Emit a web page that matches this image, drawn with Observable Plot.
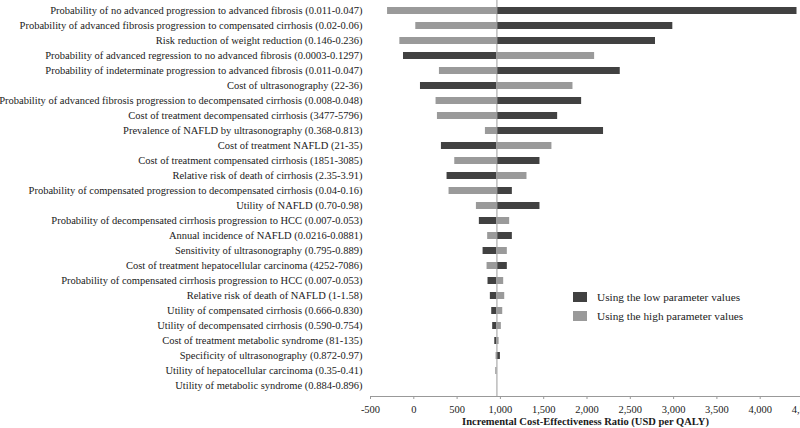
<!DOCTYPE html>
<html><head><meta charset="utf-8">
<script src="https://cdn.jsdelivr.net/npm/d3@7"></script>
<script src="https://cdn.jsdelivr.net/npm/@observablehq/plot@0.6"></script>
<style>
body{margin:0;background:#fff;overflow:hidden}
#wrap{position:relative;width:800px;height:428px}
.leg{position:absolute;left:573px;font:11.3px "Liberation Serif",serif;color:#222;display:flex;align-items:center;white-space:nowrap}
.leg span.sw{display:inline-block;width:14px;height:10px;margin-right:10px}
g[aria-label="x-axis label"] text{font-weight:bold}
</style></head><body><div id="wrap"></div>
<script>
const parameters = [
"Probability of no advanced progression to advanced fibrosis (0.011-0.047)",
"Probability of advanced fibrosis progression to compensated cirrhosis (0.02-0.06)",
"Risk reduction of weight reduction (0.146-0.236)",
"Probability of advanced regression to no advanced fibrosis (0.0003-0.1297)",
"Probability of indeterminate progression to advanced fibrosis (0.011-0.047)",
"Cost of ultrasonography (22-36)",
"Probability of advanced fibrosis progression to decompensated cirrhosis (0.008-0.048)",
"Cost of treatment decompensated cirrhosis (3477-5796)",
"Prevalence of NAFLD by ultrasonography (0.368-0.813)",
"Cost of treatment NAFLD (21-35)",
"Cost of treatment compensated cirrhosis (1851-3085)",
"Relative risk of death of cirrhosis (2.35-3.91)",
"Probability of compensated progression to decompensated cirrhosis (0.04-0.16)",
"Utility of NAFLD (0.70-0.98)",
"Probability of decompensated cirrhosis progression to HCC (0.007-0.053)",
"Annual incidence of NAFLD (0.0216-0.0881)",
"Sensitivity of ultrasonography (0.795-0.889)",
"Cost of treatment hepatocellular carcinoma (4252-7086)",
"Probability of compensated cirrhosis progression to HCC (0.007-0.053)",
"Relative risk of death of NAFLD (1-1.58)",
"Utility of compensated cirrhosis (0.666-0.830)",
"Utility of decompensated cirrhosis (0.590-0.754)",
"Cost of treatment metabolic syndrome (81-135)",
"Specificity of ultrasonography (0.872-0.97)",
"Utility of hepatocellular carcinoma (0.35-0.41)",
"Utility of metabolic syndrome (0.884-0.896)"
];
// ICER (USD per QALY) using the low parameter values
const lowValues = [4425, 2991, 2791, -119, 2384, 77, 1938, 1661, 2191, 319, 1457, 384, 1138, 1457, 757, 1138, 800, 1080, 857, 884, 900, 911, 935, 1000, null, null];
// ICER (USD per QALY) using the high parameter values
const highValues = [-303, 23, -161, 2088, 296, 1838, 257, 273, 827, 1595, 473, 1307, 407, 723, 1107, 853, 1080, 846, 1038, 1050, 1027, 1011, 985, 950, 946, null];
const baseICER = 960;
const xTicks = [-500, 0, 500, 1000, 1500, 2000, 2500, 3000, 3500, 4000, 4500];
const seriesNames = ["Using the low parameter values", "Using the high parameter values"];
const seriesColors = ["#414141", "#9a9a9a"];

const rows = [];
parameters.forEach((p, i) => {
  if (lowValues[i] != null) rows.push({parameter: p, series: seriesNames[0], base: baseICER, value: lowValues[i]});
  if (highValues[i] != null) rows.push({parameter: p, series: seriesNames[1], base: baseICER, value: highValues[i]});
});

const chart = Plot.plot({
  width: 800, height: 428,
  marginLeft: 370, marginRight: 0, marginTop: 0, marginBottom: 32,
  x: {domain: [-500, 4500], range: [370, 803]},
  y: {domain: parameters, padding: 0},
  color: {domain: seriesNames, range: seriesColors},
  style: {fontFamily: '"Liberation Serif", serif', fontSize: "10px", color: "#1a1a1a", background: "#fff"},
  marks: [
    Plot.barX(rows, {y: "parameter", x1: "base", x2: "value", fill: "series", insetTop: 4, insetBottom: 4}),
    Plot.ruleX([baseICER], {stroke: "#9a9a9a"}),
    Plot.axisY({tickSize: 0, tickPadding: 8, label: null, fontSize: 10.5}),
    Plot.axisX({ticks: xTicks, tickSize: 3, stroke: "#999", tickFormat: d => d.toLocaleString("en-US"), label: "Incremental Cost-Effectiveness Ratio (USD per QALY)", labelAnchor: "center", labelOffset: 28, labelArrow: "none", fontSize: 10.5}),
    Plot.frame({anchor: "bottom", stroke: "#999"})
  ]
});
const wrap = document.getElementById("wrap");
wrap.appendChild(chart);
seriesNames.forEach((name, i) => {
  const d = document.createElement("div");
  d.className = "leg";
  d.style.top = (i === 0 ? 291 : 310) + "px";
  d.innerHTML = `<span class="sw" style="background:${seriesColors[i]}"></span>${name}`;
  wrap.appendChild(d);
});
</script>
</body></html>
